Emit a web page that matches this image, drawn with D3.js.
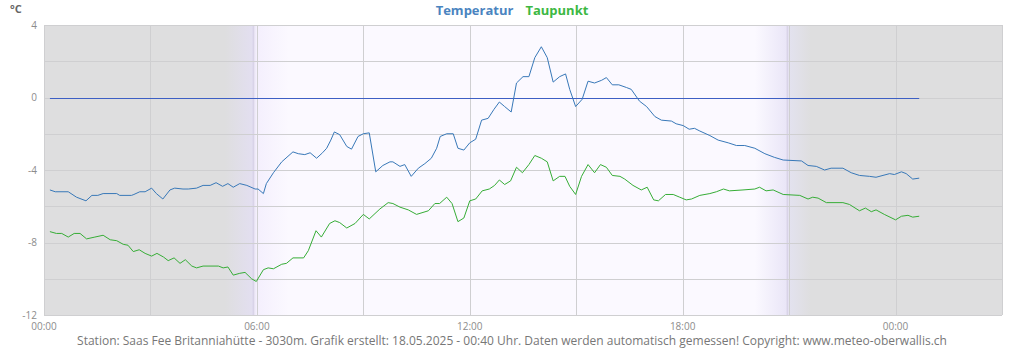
<!DOCTYPE html>
<html>
<head>
<meta charset="utf-8">
<script src="https://cdn.jsdelivr.net/npm/d3@7"></script>
<style>
  body { margin: 0; background: #fff; }
  text { font-family: "Open Sans", sans-serif; }
</style>
</head>
<body>
<div id="chart"></div>
<script>
// Messwerte (Zeit, Wert) - gelesen aus der Grafik
var tempTimes = ["00:10","00:19","00:41","00:55","01:11","01:21","01:31","01:40","02:03","02:08","02:28","02:32","02:42","02:51",
  "03:02","03:10","03:21","03:33","03:41","03:55","04:04","04:18","04:29","04:41","04:51","05:02","05:11","05:20","05:31","05:43",
  "05:57","06:02","06:11","06:16","06:28","06:42","07:01","07:10","07:21","07:30","07:41","07:51","07:58","08:05","08:11","08:20",
  "08:32","08:40","08:51","09:00","09:10","09:21","09:33","09:45","09:50","10:02","10:10","10:21","10:33","10:44","10:55","11:04",
  "11:10","11:21","11:32","11:40","11:50","12:00","12:10","12:20","12:31","12:41","12:50","12:59","13:10","13:19","13:30","13:40",
  "13:50","14:01","14:11","14:21","14:32","14:42","14:49","14:59","15:10","15:20","15:31","15:43","15:51","16:01","16:12","16:25",
  "16:33","16:47","16:59","17:13","17:24","17:41","17:49","18:01","18:11","18:20","18:29","18:46","19:00","19:17","19:31","19:45",
  "20:02","20:19","20:35","20:50","21:21","21:32","21:46","22:00","22:11","22:31","22:45","22:59","23:16","23:27","23:50","23:58",
  "00:10","00:18","00:29","00:40"];
var tempValues = [-5.1,-5.2,-5.2,-5.5,-5.7,-5.4,-5.4,-5.3,-5.3,-5.4,-5.4,-5.35,-5.2,-5.2,
  -5.0,-5.3,-5.6,-5.1,-5.0,-5.05,-5.05,-5.0,-4.85,-4.85,-4.7,-4.9,-4.75,-4.95,-4.75,-4.85,
  -5.05,-5.05,-5.3,-4.75,-4.15,-3.55,-3.0,-3.1,-3.15,-3.05,-3.35,-3.05,-2.8,-2.35,-1.9,-2.05,
  -2.7,-2.85,-2.15,-2.0,-1.95,-4.1,-3.75,-3.55,-3.55,-3.8,-3.7,-4.35,-3.9,-3.65,-3.35,-2.8,
  -2.15,-2.0,-2.0,-2.8,-2.9,-2.5,-2.3,-1.25,-1.15,-0.65,-0.25,-0.5,-0.8,0.8,1.15,1.15,
  2.2,2.8,2.2,0.85,1.15,1.3,0.45,-0.5,-0.1,0.9,0.8,0.95,1.1,0.7,0.7,0.55,
  0.45,-0.2,-0.5,-1.05,-1.25,-1.3,-1.45,-1.55,-1.75,-1.7,-1.85,-2.1,-2.35,-2.5,-2.65,-2.65,
  -2.8,-3.1,-3.3,-3.45,-3.5,-3.75,-3.8,-4.0,-3.9,-3.9,-4.15,-4.3,-4.35,-4.4,-4.2,-4.25,
  -4.1,-4.2,-4.5,-4.45];

var dewTimes = ["00:10","00:21","00:30","00:41","00:51","01:01","01:12","01:26","01:40","01:52","02:03","02:14","02:22","02:31",
  "02:41","02:51","03:02","03:11","03:22","03:30","03:40","03:50","03:59","04:10","04:18","04:29","04:55","05:03","05:11","05:20",
  "05:31","05:40","05:51","05:59","06:11","06:19","06:28","06:42","06:50","07:01","07:19","07:27","07:40","07:49","08:03","08:12",
  "08:20","08:32","08:46","09:00","09:10","09:28","09:42","09:50","10:02","10:16","10:30","10:50","11:01","11:09","11:21","11:30",
  "11:40","11:50","12:00","12:10","12:21","12:33","12:42","12:50","12:59","13:09","13:19","13:29","13:40","13:50","14:01","14:11",
  "14:21","14:32","14:41","14:49","14:59","15:09","15:20","15:31","15:41","15:51","16:01","16:14","16:22","16:36","16:50","17:00",
  "17:11","17:19","17:31","17:44","17:55","18:06","18:15","18:29","18:46","18:57","19:09","19:19","19:42","20:02","20:10","20:21",
  "20:33","20:50","21:18","21:32","21:40","21:49","22:03","22:31","22:42","22:59","23:09","23:19","23:27","23:41","00:00","00:10",
  "00:21","00:29","00:40"];
var dewValues = [-7.4,-7.5,-7.5,-7.7,-7.5,-7.5,-7.8,-7.7,-7.6,-7.85,-7.9,-8.1,-8.15,-8.5,
  -8.4,-8.6,-8.75,-8.6,-8.8,-9.0,-8.85,-9.15,-8.95,-9.3,-9.4,-9.3,-9.3,-9.4,-9.35,-9.8,
  -9.7,-9.65,-10.0,-10.15,-9.5,-9.4,-9.45,-9.2,-9.15,-8.85,-8.85,-8.45,-7.35,-7.7,-6.95,-6.8,
  -6.9,-7.2,-6.95,-6.45,-6.7,-6.15,-5.8,-5.85,-6.05,-6.2,-6.45,-6.25,-5.85,-5.85,-5.5,-5.85,
  -6.85,-6.65,-5.7,-5.6,-5.15,-5.05,-4.85,-4.55,-4.8,-4.6,-3.85,-4.15,-3.7,-3.2,-3.35,-3.55,
  -4.6,-4.35,-4.35,-4.9,-5.35,-4.35,-3.7,-4.15,-3.7,-3.85,-4.3,-4.35,-4.5,-4.85,-5.1,-4.95,
  -5.65,-5.7,-5.35,-5.35,-5.5,-5.65,-5.6,-5.4,-5.3,-5.2,-5.05,-5.15,-5.1,-5.05,-4.95,-5.15,
  -5.1,-5.35,-5.4,-5.6,-5.5,-5.55,-5.8,-5.8,-5.9,-6.25,-6.1,-6.3,-6.2,-6.45,-6.75,-6.55,
  -6.5,-6.6,-6.55];

// Achsen / Beschriftungen
var yTicks = [4, 0, -4, -8, -12];
var yGrid = [4, 2, 0, -2, -4, -6, -8, -10, -12];
var xTickHours = [0, 6, 12, 18, 24];
var xGridHours = [0, 3, 6, 9, 12, 15, 18, 21, 24, 27];
var sunrise = "05:54", sunset = "20:57";
var legendItems = ["Temperatur", "Taupunkt"];
var footer = "Station: Saas Fee Britanniahütte - 3030m. Grafik erstellt: 18.05.2025 - 00:40 Uhr. Daten werden automatisch gemessen! Copyright: www.meteo-oberwallis.ch";

var width = 1024, height = 350;
var margin = { top: 25, right: 22, bottom: 35, left: 44 };

var base = new Date(2025, 4, 17, 0, 0);
// "HH:MM" -> Date, mit Tageswechsel nach Mitternacht
function toDates(times) {
  var prev = -1, day = 0;
  return times.map(function (t) {
    var p = t.split(":"), m = +p[0] * 60 + +p[1];
    if (m < prev) day++;
    prev = m;
    return new Date(base.getTime() + (day * 1440 + m) * 60000);
  });
}
function hourDate(h) { return new Date(base.getTime() + h * 3600000); }

var tempData = toDates(tempTimes).map(function (d, i) { return { date: d, v: tempValues[i] }; });
var dewData = toDates(dewTimes).map(function (d, i) { return { date: d, v: dewValues[i] }; });

var svg = d3.select("#chart")
  .append("svg")
  .attr("width", width)
  .attr("height", height);

var x = d3.scaleTime()
  .domain([hourDate(0), hourDate(27)])
  .range([margin.left, width - margin.right]);
var y = d3.scaleLinear()
  .domain([-12, 4])
  .range([height - margin.bottom, margin.top]);

var x0 = x.range()[0], x1 = x.range()[1], pw = x1 - x0;
var sr = x(toDates([sunrise])[0]), ss = x(toDates([sunset])[0]);
function off(px) { return Math.max(0, Math.min(100, (px - x0) / pw * 100)) + "%"; }
var minPx = pw / (27 * 60);

// Hintergrund Tag / Nacht
var grad = svg.append("defs").append("linearGradient")
  .attr("id", "daynight")
  .attr("x1", "0%").attr("x2", "100%").attr("y1", "0%").attr("y2", "0%");
var stops = [
  [x0, "#dededf"], [sr - 48 * minPx, "#dededf"], [sr, "#e3dff1"], [sr + 5 * minPx, "#f4effd"],
  [sr + 60 * minPx, "#fbf9ff"], [ss - 55 * minPx, "#fbf9ff"], [ss, "#e9e5f7"], [ss + 3 * minPx, "#e3e2ef"],
  [ss + 40 * minPx, "#dededf"], [x1, "#dededf"]
];
grad.selectAll("stop").data(stops).enter().append("stop")
  .attr("offset", function (d) { return off(d[0]); })
  .attr("stop-color", function (d) { return d[1]; });

svg.append("rect")
  .attr("x", x0).attr("y", y(4))
  .attr("width", pw).attr("height", y(-12) - y(4))
  .attr("fill", "url(#daynight)");

// Sonnenauf- / untergang
svg.selectAll(".sun")
  .data([sr, ss])
  .enter().append("line")
  .attr("x1", function (d) { return d; }).attr("x2", function (d) { return d; })
  .attr("y1", y(4)).attr("y2", y(-12))
  .attr("stroke", "#d9d3e8").attr("stroke-width", 1.5);

// Gitter
svg.selectAll(".hgrid")
  .data(yGrid)
  .enter().append("line")
  .attr("x1", x0).attr("x2", x1)
  .attr("y1", function (d) { return Math.round(y(d)) + 0.5; })
  .attr("y2", function (d) { return Math.round(y(d)) + 0.5; })
  .attr("stroke", "#cfcfd1").attr("stroke-width", 1);
svg.selectAll(".vgrid")
  .data(xGridHours)
  .enter().append("line")
  .attr("x1", function (d) { return Math.round(x(hourDate(d))) + 0.5; })
  .attr("x2", function (d) { return Math.round(x(hourDate(d))) + 0.5; })
  .attr("y1", y(4)).attr("y2", y(-12))
  .attr("stroke", "#cfcfd1").attr("stroke-width", 1);

// Nulllinie ueber den Datenbereich
svg.append("line")
  .attr("x1", x(tempData[0].date)).attr("x2", x(tempData[tempData.length - 1].date))
  .attr("y1", Math.round(y(0)) + 0.5).attr("y2", Math.round(y(0)) + 0.5)
  .attr("stroke", "#3d5fc4").attr("stroke-width", 1);

// Linien
var line = d3.line()
  .x(function (d) { return x(d.date); })
  .y(function (d) { return y(d.v); });

svg.append("path").datum(dewData)
  .attr("fill", "none").attr("stroke", "#36ad36").attr("stroke-width", 1)
  .attr("d", line);
svg.append("path").datum(tempData)
  .attr("fill", "none").attr("stroke", "#3878b8").attr("stroke-width", 1)
  .attr("d", line);

// Y Beschriftung
svg.selectAll(".ylab")
  .data(yTicks)
  .enter().append("text")
  .attr("x", 37)
  .attr("y", function (d) { return y(d) + 3.5; })
  .attr("text-anchor", "end")
  .attr("font-size", "10px")
  .attr("fill", "#8c8c8c")
  .text(function (d) { return d; });

svg.append("text")
  .attr("x", 10).attr("y", 13)
  .attr("font-size", "11px").attr("font-weight", "bold")
  .attr("fill", "#666")
  .text("°C");

// X Beschriftung
svg.selectAll(".xlab")
  .data(xTickHours)
  .enter().append("text")
  .attr("x", function (d) { return x(hourDate(d)); })
  .attr("y", 330)
  .attr("text-anchor", "middle")
  .attr("font-size", "10px")
  .attr("fill", "#8c8c8c")
  .text(function (d) { return d3.timeFormat("%H:%M")(hourDate(d)); });

// Titel / Legende
var legendColors = ["#4a84c0", "#3db843"];
var title = svg.append("text")
  .attr("x", 512).attr("y", 15)
  .attr("text-anchor", "middle")
  .attr("font-size", "13px").attr("font-weight", "bold");
title.selectAll("tspan")
  .data(legendItems)
  .enter().append("tspan")
  .attr("dx", function (d, i) { return i ? 12 : 0; })
  .attr("fill", function (d, i) { return legendColors[i]; })
  .text(function (d) { return d; });

// Fusszeile
svg.append("text")
  .attr("x", 512).attr("y", 345)
  .attr("text-anchor", "middle")
  .attr("font-size", "12px")
  .attr("fill", "#777")
  .text(footer);
</script>
</body>
</html>
